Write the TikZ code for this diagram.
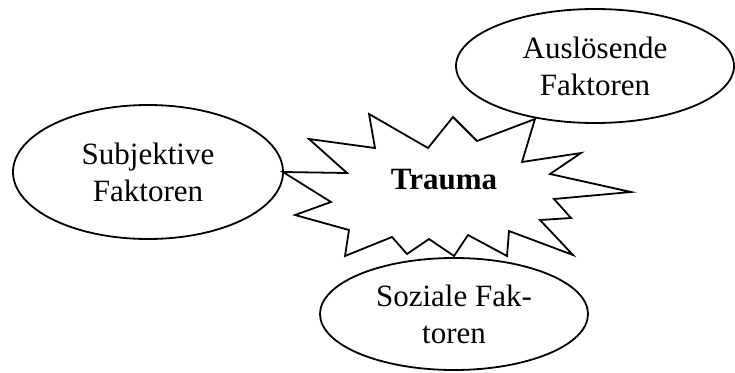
\documentclass[tikz,border=0pt]{standalone}
\usepackage{fontspec}
\setmainfont{Liberation Serif}
\usetikzlibrary{shapes.geometric}
\begin{document}
\begin{tikzpicture}[x=1pt,y=-1pt,
  factor/.style={draw=black, line width=1.8pt, ellipse, inner sep=0pt,
    align=center, font=\fontsize{31}{37}\selectfont},
  burst/.style={draw=black, line width=1.8pt, line join=miter, fill=white}]
  \useasboundingbox (0,0) rectangle (735,372);

  % ellipses for the three groups of factors
  \node[factor, minimum width=270pt, minimum height=134pt] (subj) at (148,172)
    {Subjektive\\Faktoren};
  \node[factor, minimum width=278pt, minimum height=114pt] (ausl) at (595,66)
    {Auslösende\\Faktoren};
  \node[factor, minimum width=268pt, minimum height=112pt] (soz) at (454,314)
    {Soziale Fak-\\toren};

  % explosion outline around the central term
  \draw[burst]
    (283,172) -- (347,173) -- (309,139) -- (375,148) -- (369,114) --
    (428,148) -- (453,117) -- (477,141) -- (535,119) -- (522,162) --
    (581,153) -- (550,174) -- (631,192) -- (554,199) -- (571,218) --
    (540,220) -- (573,255) -- (509,231) -- (507,256) -- (468,235) --
    (454,256) -- (429,239) -- (407,254) -- (392,237) -- (345,256) --
    (349,230) -- (295,215) -- (331,202) -- cycle;
  \node[font=\fontsize{31}{37}\selectfont\bfseries] (trauma) at (444,180) {Trauma};
\end{tikzpicture}
\end{document}
